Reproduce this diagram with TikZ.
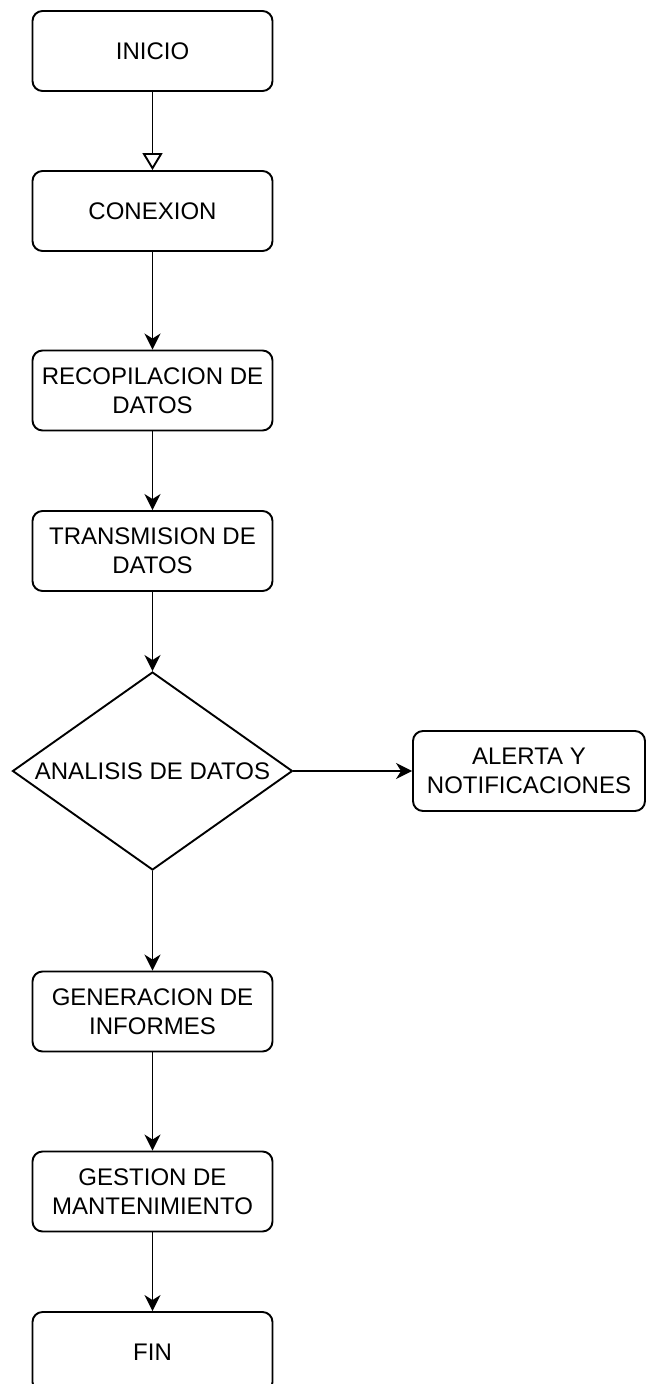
\documentclass[tikz,border=0pt]{standalone}
\usepackage{fontspec}
\setmainfont{Liberation Sans}
\usetikzlibrary{arrows.meta,shapes.geometric}

\tikzset{
  caja/.style={draw, line width=1.9pt, rounded corners=10pt, minimum width=240pt,
    minimum height=80pt, align=center, inner sep=0pt},
  rombo/.style={draw, line width=1.9pt, diamond, aspect=1.414, inner sep=0pt,
    minimum width=280pt, minimum height=198pt, align=center},
  flecha/.style={line width=1.9pt, -{Stealth[length=16pt,width=16pt,inset=5pt]}},
  flechaabierta/.style={line width=1.9pt, -{Triangle[open,length=17pt,width=20pt,line width=1.9pt]}}
}

\begin{document}
\begin{tikzpicture}[x=1pt, y=-1pt, font=\fontsize{24}{28.8}\selectfont]
    \useasboundingbox (0,0) rectangle (646,1384);
    % cajas del flujo principal
    \node[caja] (inicio)   at (152.5,51)    {INICIO};
    \node[caja] (conexion) at (152.5,211)   {CONEXION};
    \node[caja] (recop)    at (152.5,390.5) {RECOPILACION DE\\DATOS};
    \node[caja] (trans)    at (152.5,551)   {TRANSMISION DE\\DATOS};
    \node[rombo] (analisis) at (152.5,771)  {ANALISIS DE DATOS};
    \node[caja, minimum width=232pt] (alerta) at (529,771) {ALERTA Y\\NOTIFICACIONES};
    \node[caja] (gener)    at (152.5,1011.5) {GENERACION DE\\INFORMES};
    \node[caja] (gestion)  at (152.5,1191.5) {GESTION DE\\MANTENIMIENTO};
    \node[caja] (fin)      at (152.5,1352)   {FIN};
    % conectores
    \draw[flechaabierta] (inicio) -- (conexion);
    \foreach \a/\b in {conexion/recop,recop/trans,trans/analisis,analisis/gener,gener/gestion,gestion/fin}
    \draw[flecha] (\a) -- (\b);
    \draw[flecha] (analisis) -- (alerta);
\end{tikzpicture}
\end{document}
